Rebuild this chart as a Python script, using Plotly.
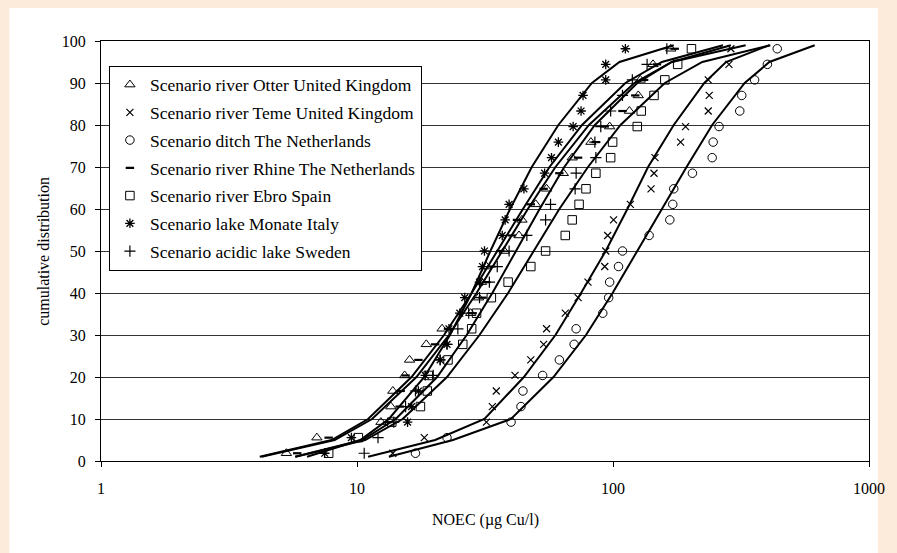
import plotly.graph_objects as go

# ---------------- data ----------------
# plotting positions (%) of the 27 NOEC values per scenario
cum_pct = [1.85, 5.56, 9.26, 12.96, 16.67, 20.37, 24.07, 27.78, 31.48, 35.19,
           38.89, 42.59, 46.30, 50.00, 53.70, 57.41, 61.11, 64.81, 68.52, 72.22,
           75.93, 79.63, 83.33, 87.04, 90.74, 94.44, 98.15]

otter_noec = [5.30, 6.97, 12.40, 13.56, 13.80, 15.35, 16.04, 18.65, 21.49, 27.80,
              29.84, 30.64, 32.03, 37.58, 42.93, 44.09, 49.90, 55.03, 63.96, 69.27,
              81.99, 97.03, 115.9, 125.5, 127.8, 143.3, 168.2]
teme_noec = [13.80, 18.32, 32.03, 33.78, 35.00, 41.42, 47.75, 53.58, 55.03, 65.10,
             73.06, 79.84, 92.84, 93.65, 95.33, 100.5, 116.9, 140.8, 144.6, 145.9,
             183.7, 192.0, 235.5, 237.6, 235.5, 283.7, 288.8]
ditch_noec = [16.92, 22.47, 39.97, 43.70, 44.48, 53.11, 61.72, 70.51, 71.78, 91.20,
              96.18, 97.03, 105.1, 108.9, 138.4, 166.7, 171.2, 172.7, 204.3, 244.0,
              246.2, 259.6, 312.7, 318.4, 357.3, 400.9, 438.0]
rhine_noec = [5.84, 7.75, 13.20, 14.68, 14.81, 15.48, 17.38, 20.20, 22.67, 28.29,
              30.92, 32.03, 33.48, 36.27, 40.33, 42.17, 47.75, 53.58, 61.72, 73.06,
              85.71, 92.84, 108.9, 122.2, 132.3, 148.5, 174.2]
ebro_noec = [7.75, 10.12, 13.67, 17.69, 18.82, 18.98, 22.67, 25.89, 28.05, 29.31,
             33.48, 38.93, 47.75, 54.54, 65.10, 69.27, 73.71, 78.43, 85.71, 97.91,
             99.65, 124.4, 128.9, 144.6, 159.4, 178.9, 202.5]
monate_noec = [7.48, 9.51, 15.76, 16.33, 17.38, 18.49, 21.12, 22.47, 22.87, 25.21,
               26.36, 30.10, 30.92, 31.47, 36.92, 37.91, 39.28, 44.87, 54.06, 57.52,
               61.18, 69.88, 75.03, 76.37, 93.65, 93.65, 111.8]
sweden_noec = [10.67, 12.08, 13.92, 15.48, 16.92, 19.85, 21.12, 22.47, 24.77, 27.31,
               30.10, 32.89, 35.31, 39.28, 46.08, 54.54, 57.02, 71.13, 71.78, 85.71,
               84.96, 89.60, 97.91, 108.9, 119.0, 135.9, 162.3]

# fitted distribution curves: percentiles and NOEC at each percentile
curve_pct = [1, 5, 10, 20, 30, 40, 50, 60, 70, 80, 90, 95, 99]
otter_fit = [4.17, 7.96, 11.05, 16.33, 21.88, 28.05, 35.31, 44.48, 56.49, 75.70, 111.8, 155.2, 269.0]
teme_fit = [11.05, 20.20, 31.47, 44.87, 59.60, 75.03, 93.65, 113.8, 137.1, 172.7, 227.3, 276.3, 408.1]
ditch_fit = [13.32, 23.70, 39.97, 58.55, 78.43, 99.65, 124.4, 155.2, 193.8, 244.0, 326.9, 408.1, 613.6]
rhine_fit = [4.24, 8.18, 11.45, 17.07, 22.87, 29.31, 36.92, 46.49, 59.60, 80.54, 121.1, 169.7, 329.8]
ebro_fit = [5.74, 10.76, 15.08, 22.47, 30.10, 38.93, 49.02, 61.72, 79.84, 106.98, 159.4, 223.3, 411.8]
monate_fit = [6.38, 10.30, 13.32, 18.32, 23.08, 28.05, 33.19, 39.63, 48.17, 61.18, 82.73, 106.0, 172.7]
sweden_fit = [5.74, 10.48, 14.17, 20.56, 26.82, 33.78, 41.80, 51.69, 64.53, 84.96, 124.4, 169.7, 288.8]

series_names = ["Scenario river Otter United Kingdom",
                "Scenario river Teme United Kingdom",
                "Scenario ditch The Netherlands",
                "Scenario river Rhine The Netherlands",
                "Scenario river Ebro Spain",
                "Scenario lake Monate Italy",
                "Scenario acidic lake Sweden"]
series_points = [otter_noec, teme_noec, ditch_noec, rhine_noec, ebro_noec, monate_noec, sweden_noec]
series_fits = [otter_fit, teme_fit, ditch_fit, rhine_fit, ebro_fit, monate_fit, sweden_fit]

x_tick_vals = [1, 10, 100, 1000]
x_tick_text = ["1", "10", "100", "1000"]
y_tick_vals = [0, 10, 20, 30, 40, 50, 60, 70, 80, 90, 100]

# ---------------- styles ----------------
FONT = "Liberation Serif"
marker_styles = [
    dict(symbol="triangle-up-open", size=9, line=dict(width=1, color="black")),
    dict(symbol="x-thin-open", size=7, line=dict(width=1.2, color="black")),
    dict(symbol="circle-open", size=8.5, line=dict(width=1, color="black")),
    dict(symbol="line-ew-open", size=6, line=dict(width=2.2, color="black")),
    dict(symbol="square-open", size=8.5, line=dict(width=1, color="black")),
    dict(symbol="asterisk-open", size=8, line=dict(width=1.3, color="black")),
    dict(symbol="cross-thin-open", size=8, line=dict(width=1.2, color="black")),
]

fig = go.Figure()

for fit in series_fits:
    fig.add_trace(go.Scatter(x=fit, y=curve_pct, mode="lines",
                             line=dict(color="black", width=2),
                             showlegend=False, hoverinfo="skip"))

for i, (name, pts, ms) in enumerate(zip(series_names, series_points, marker_styles)):
    fig.add_trace(go.Scatter(x=pts, y=cum_pct, mode="markers", name=name,
                             legendgroup=f"g{i}",
                             marker=dict(color="black", **ms)))

fig.update_layout(
    width=897, height=553,
    margin=dict(l=101, r=17, t=41, b=92, pad=0),
    paper_bgcolor="#FCEADB",
    plot_bgcolor="white",
    font=dict(family=FONT, size=16, color="black"),
    showlegend=True,
    legend=dict(x=0.0103, y=0.9412, xanchor="left", yanchor="top",
                bgcolor="white", bordercolor="black", borderwidth=1,
                font=dict(family=FONT, size=17.5, color="black"),
                tracegroupgap=2, traceorder="grouped"),
    shapes=[dict(type="rect", xref="paper", yref="paper",
                 x0=-0.1194, x1=1.0116, y0=-0.26, y1=1.0786,
                 fillcolor="white", line=dict(width=0), layer="below")],
    annotations=[
        dict(text="NOEC (µg Cu/l)", xref="paper", yref="paper", x=0.5, y=-0.1405,
             xanchor="center", yanchor="middle", showarrow=False,
             font=dict(family=FONT, size=16, color="black")),
        dict(text="cumulative distribution", xref="paper", yref="paper",
             x=-0.0757, y=0.5, xanchor="center", yanchor="middle", textangle=-90,
             showarrow=False, font=dict(family=FONT, size=16, color="black")),
    ],
)

fig.update_xaxes(type="log", range=[0, 3], tickvals=x_tick_vals, ticktext=x_tick_text,
                 showgrid=False, zeroline=False, showline=True, mirror=True,
                 linecolor="black", linewidth=1, ticks="outside", ticklen=5,
                 tickcolor="black", tickwidth=1, ticklabelstandoff=8)
fig.update_yaxes(range=[0, 100], tickvals=y_tick_vals, showgrid=True,
                 gridcolor="#333333", gridwidth=1, zeroline=False, showline=True,
                 mirror=True, linecolor="black", linewidth=1, ticks="outside",
                 ticklen=5, tickcolor="black", tickwidth=1, ticklabelstandoff=6)

fig.write_html("out.html")
